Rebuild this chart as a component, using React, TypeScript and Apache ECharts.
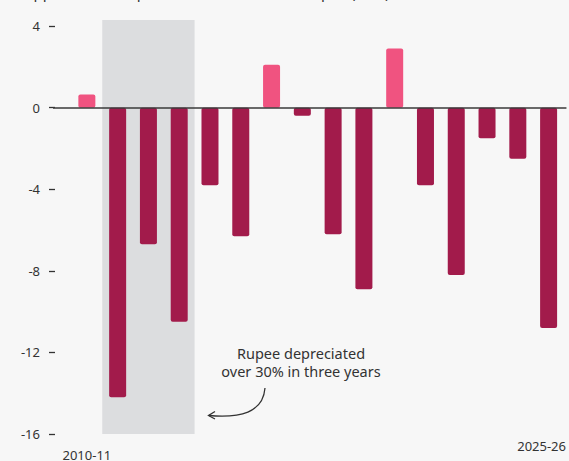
import React, { useEffect, useRef } from "react";
import * as echarts from "echarts";

const categories = [
  "2010-11", "2011-12", "2012-13", "2013-14", "2014-15", "2015-16", "2016-17", "2017-18",
  "2018-19", "2019-20", "2020-21", "2021-22", "2022-23", "2023-24", "2024-25", "2025-26",
];
const values = [0.65, -14.2, -6.7, -10.5, -3.8, -6.3, 2.1, -0.4, -6.2, -8.9, 2.9, -3.8, -8.2, -1.5, -2.5, -10.8];
const yTicks = [-16, -12, -8, -4, 0, 4];
const labelledIdx = [0, 15];
const shadeRange = [0.5, 3.5];

const FONT = "Noto Sans";

export default function App() {
  const ref = useRef<HTMLDivElement>(null);
  useEffect(() => {
    if (!ref.current) return;
    const chart = echarts.init(ref.current, undefined, { renderer: "svg" });
    chart.setOption({
      animation: false,
      backgroundColor: "#F7F7F7",
      textStyle: { fontFamily: FONT },
      grid: { left: 53, right: 0, top: 20, bottom: 23.5 },
      xAxis: {
        type: "value",
        min: -1.1,
        max: 15.58,
        splitLine: { show: false },
        axisLine: { show: false, onZero: false },
        axisTick: { show: false },
        axisLabel: {
          customValues: labelledIdx,
          margin: 5,
          color: "#333",
          fontSize: 13,
          fontFamily: FONT,
          formatter: (v: number) => (v === 0 ? `{a|${categories[v]}}` : `{b|${categories[v]}}`),
          rich: {
            a: { fontSize: 13, color: "#333", fontFamily: FONT, padding: [9, 0, 0, 0] },
            b: { fontSize: 13, color: "#333", fontFamily: FONT, padding: [0, 14, 0, 0] },
          },
        },
      },
      yAxis: {
        type: "value",
        min: -16,
        max: 4.3,
        offset: -2,
        splitLine: { show: false },
        axisLine: { show: false, onZero: false },
        axisTick: { show: true, length: 6, customValues: yTicks, lineStyle: { color: "#333", width: 1.3 } },
        axisLabel: { customValues: yTicks, margin: 15, color: "#333", fontSize: 13, fontFamily: FONT },
      },
      series: [
        {
          type: "line",
          data: [],
          z: 1,
          silent: true,
          markArea: {
            silent: true,
            itemStyle: { color: "#DCDDDF" },
            data: [[{ xAxis: shadeRange[0], yAxis: -16 }, { xAxis: shadeRange[1], yAxis: 4.3 }]],
          },
        },
        {
          type: "bar",
          z: 2,
          barWidth: 17,
          data: values.map((v, i) => [i, v]),
          itemStyle: {
            borderRadius: 2,
            color: (p: any) => (p.value[1] >= 0 ? "#F05380" : "#A21B4B"),
          },
          markLine: {
            silent: true,
            symbol: "none",
            label: { show: false },
            lineStyle: { color: "#3a3a3a", width: 1.5, type: "solid" },
            data: [{ yAxis: 0 }],
          },
        },
      ],
      graphic: [
        {
          type: "text",
          left: 24,
          y: -8,
          style: {
            text: "Appreciation/depreciation of the Indian rupee (in %), 2010-11 to 2025-26",
            fontSize: 15,
            fontFamily: FONT,
            fill: "#333",
            verticalAlign: "middle",
          },
        },
        {
          type: "text",
          x: 301,
          y: 352.5,
          style: {
            text: "Rupee depreciated",
            fontSize: 14.5,
            lineHeight: 17,
            fontFamily: FONT,
            fill: "#333",
            align: "center",
            verticalAlign: "middle",
          },
        },
        {
          type: "text",
          x: 301,
          y: 371,
          style: {
            text: "over 30% in three years",
            fontSize: 14.5,
            lineHeight: 17,
            fontFamily: FONT,
            fill: "#333",
            align: "center",
            verticalAlign: "middle",
          },
        },
        {
          type: "bezierCurve",
          shape: { x1: 265, y1: 388, cpx1: 263, cpy1: 413, cpx2: 240, cpy2: 418, x2: 209, y2: 415.5 },
          style: { stroke: "#333", lineWidth: 1.3, fill: "none" },
        },
        {
          type: "polyline",
          shape: { points: [[215, 411.5], [208.5, 415.5], [215, 419]] },
          style: { stroke: "#333", lineWidth: 1.3, fill: "none" },
        },
      ],
    });
    return () => chart.dispose();
  }, []);
  return (
    <div
      ref={ref}
      style={{ position: "fixed", left: 0, top: 0, width: 569, height: 461, background: "#F7F7F7" }}
    />
  );
}
